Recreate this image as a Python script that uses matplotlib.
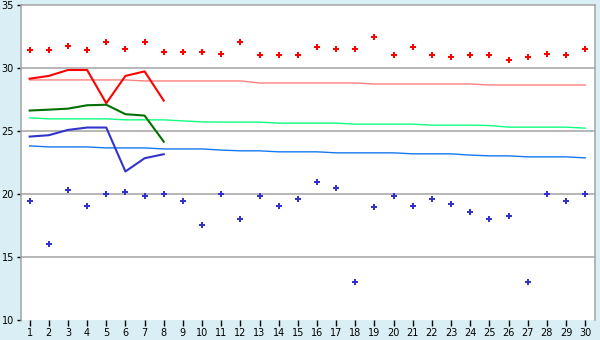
import matplotlib
matplotlib.use("Agg")
import matplotlib.pyplot as plt

days = list(range(1, 31))

max_temps = [31.43, 31.43, 31.74, 31.43, 32.06, 31.53, 32.06, 31.27, 31.27, 31.27,
             31.11, 32.06, 31.03, 31.03, 31.03, 31.67, 31.5, 31.5, 32.46, 31.03,
             31.67, 31.03, 30.87, 31.03, 31.03, 30.63, 30.87, 31.11, 31.03, 31.5]

min_temps = [19.44, 16.0, 20.32, 19.05, 20.0, 20.16, 19.84, 20.0, 19.44, 17.52,
             20.0, 18.02, 19.84, 19.05, 19.6, 20.95, 20.48, 13.0, 18.97, 19.84,
             19.05, 19.6, 19.21, 18.57, 18.02, 18.25, 13.0, 20.0, 19.44, 20.0]

line_days = [1, 2, 3, 4, 5, 6, 7, 8]
red_line = [29.17, 29.39, 29.86, 29.86, 27.22, 29.39, 29.75, 27.43]
green_line = [26.64, 26.71, 26.79, 27.06, 27.1, 26.35, 26.24, 24.17]
blue_line = [24.57, 24.68, 25.1, 25.29, 25.29, 21.8, 22.85, 23.17]

normal_max = [29.07, 29.07, 29.07, 29.07, 29.07, 29.07, 28.99, 28.99, 28.99, 28.99,
              28.99, 28.99, 28.83, 28.83, 28.83, 28.83, 28.83, 28.83, 28.75, 28.75,
              28.75, 28.75, 28.75, 28.75, 28.67, 28.67, 28.67, 28.67, 28.67, 28.67]
normal_mean = [26.06, 25.98, 25.98, 25.98, 25.98, 25.9, 25.9, 25.9, 25.82, 25.74,
               25.72, 25.72, 25.72, 25.64, 25.64, 25.64, 25.64, 25.56, 25.56, 25.56,
               25.56, 25.48, 25.48, 25.48, 25.45, 25.32, 25.32, 25.32, 25.32, 25.24]
normal_min = [23.83, 23.75, 23.75, 23.75, 23.67, 23.67, 23.67, 23.59, 23.59, 23.59,
              23.5, 23.44, 23.44, 23.36, 23.36, 23.36, 23.28, 23.28, 23.28, 23.28,
              23.2, 23.2, 23.2, 23.1, 23.04, 23.04, 22.96, 22.96, 22.96, 22.88]

y_ticks = [10, 15, 20, 25, 30, 35]

bg = "#daeff5"
fig = plt.figure(figsize=(6, 3.4), dpi=100, facecolor=bg)
ax = fig.add_axes([0.035, 0.0588, 0.957, 0.9256])
ax.set_facecolor("white")

for t in y_ticks[1:]:
    ax.axhline(t, color="#aaaaaa", lw=1.2, zorder=1, clip_on=False)

ax.plot(days, normal_max, color="#ff8080", lw=1.0, zorder=2)
ax.plot(days, normal_mean, color="#10ff80", lw=1.0, zorder=2)
ax.plot(days, normal_min, color="#1478f0", lw=1.0, zorder=2)

ax.plot(line_days, red_line, color="#ff0000", lw=1.5, zorder=3)
ax.plot(line_days, green_line, color="#007000", lw=1.5, zorder=3)
ax.plot(line_days, blue_line, color="#3333cc", lw=1.5, zorder=3)

ax.plot(days, max_temps, linestyle="none", marker="P", ms=4.6, color="#ff0000",
        markeredgewidth=0, zorder=4)
ax.plot(days, min_temps, linestyle="none", marker="P", ms=4.6, color="#3333cc",
        markeredgewidth=0, zorder=4)

ax.set_xlim(0.55, 30.52)
ax.set_ylim(10, 35)
ax.set_xticks(days)
ax.set_xticklabels([str(d) for d in days])
ax.set_yticks(y_ticks)
ax.set_yticklabels([str(t) for t in y_ticks])
ax.tick_params(axis="both", labelsize=7, colors="black", width=1, pad=2)
ax.tick_params(axis="x", length=4)
ax.tick_params(axis="y", length=3)

for side in ["left", "right"]:
    ax.spines[side].set_color("#aaaaaa")
    ax.spines[side].set_linewidth(1.2)
ax.spines["top"].set_visible(False)
ax.spines["bottom"].set_visible(False)

fig.savefig("out.png", dpi=100, facecolor=bg)
